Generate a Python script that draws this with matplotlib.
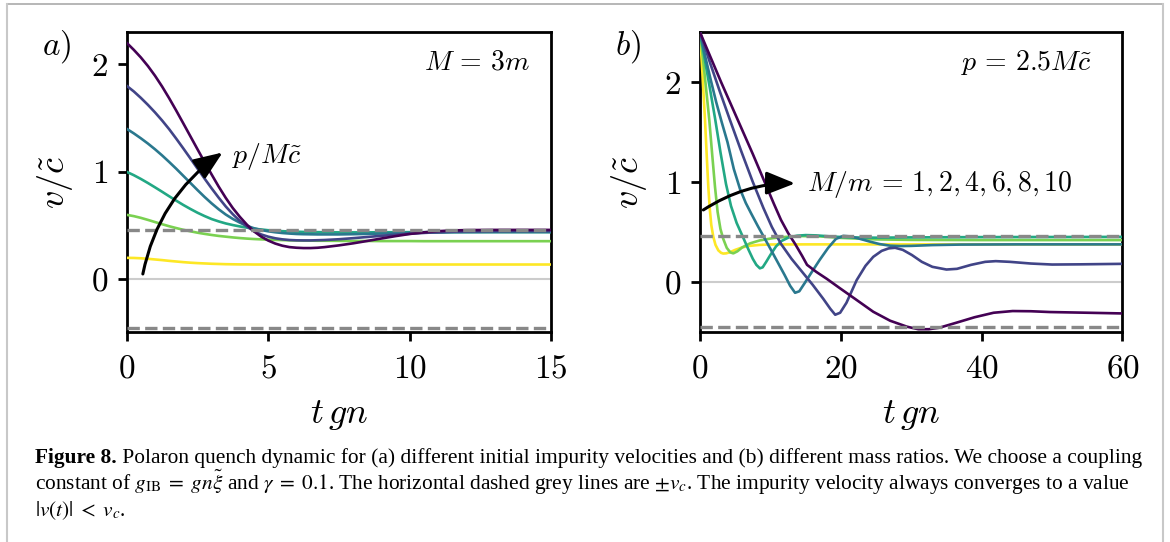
import numpy as np
import matplotlib
matplotlib.use('Agg')
import matplotlib.pyplot as plt
from matplotlib.lines import Line2D

plt.rcParams['mathtext.fontset'] = 'cm'
plt.rcParams['font.family'] = 'serif'
plt.rcParams['font.serif'] = ['cmr10', 'DejaVu Serif']
plt.rcParams['axes.unicode_minus'] = False

# ---- panel a: different initial momenta, M = 3m ----
t_a = [0, 0.25, 0.5, 0.75, 1, 1.25, 1.5, 1.75, 2, 2.25, 2.5, 2.75, 3, 3.25, 3.5, 3.75, 4, 4.25,
       4.5, 4.75, 5, 5.25, 5.5, 5.75, 6, 6.25, 6.5, 6.75, 7,
       7.5, 8, 8.5, 9, 9.5, 10, 10.5, 11, 11.5, 12,
       13, 14, 15]
p_labels = [2.2, 1.8, 1.4, 1.0, 0.6, 0.2]
v_a = {
    2.2: [2.200, 2.135, 2.064, 1.984, 1.894, 1.794, 1.685, 1.570, 1.451, 1.331, 1.211, 1.092, 0.976,
          0.863, 0.758, 0.663, 0.581, 0.508, 0.446, 0.398, 0.361, 0.333, 0.313, 0.300, 0.294, 0.291,
          0.291, 0.294, 0.300,
          0.316, 0.335, 0.357, 0.380, 0.402, 0.422, 0.437, 0.448, 0.455, 0.458,
          0.46, 0.46, 0.46],
    1.8: [1.800, 1.748, 1.688, 1.623, 1.553, 1.478, 1.397, 1.309, 1.218, 1.125, 1.031, 0.938, 0.847,
          0.760, 0.678, 0.606, 0.543, 0.491, 0.448, 0.418, 0.397, 0.382, 0.372, 0.366, 0.363, 0.362,
          0.362, 0.364, 0.366,
          0.373, 0.383, 0.394, 0.405, 0.415, 0.424, 0.432, 0.438, 0.443, 0.446,
          0.449, 0.45, 0.45],
    1.4: [1.400, 1.358, 1.312, 1.263, 1.210, 1.153, 1.092, 1.029, 0.963, 0.897, 0.831, 0.767, 0.707,
          0.652, 0.603, 0.562, 0.527, 0.498, 0.475, 0.459, 0.447, 0.438, 0.431, 0.426, 0.422, 0.420,
          0.419, 0.418, 0.418,
          0.418, 0.42, 0.423, 0.426, 0.429, 0.432, 0.434, 0.436, 0.438, 0.439,
          0.44, 0.44, 0.44],
    1.0: [1.000, 0.969, 0.934, 0.896, 0.856, 0.815, 0.773, 0.732, 0.692, 0.655, 0.620, 0.589, 0.561,
          0.539, 0.520, 0.505, 0.492, 0.481, 0.471, 0.464, 0.457, 0.452, 0.448, 0.445, 0.443, 0.441,
          0.440, 0.439, 0.438,
          0.437, 0.437, 0.437, 0.438, 0.438, 0.439, 0.439, 0.44, 0.44, 0.44,
          0.44, 0.44, 0.44],
    0.6: [0.600, 0.588, 0.572, 0.553, 0.533, 0.513, 0.494, 0.477, 0.461, 0.447, 0.434, 0.423, 0.413,
          0.404, 0.397, 0.390, 0.384, 0.379, 0.375, 0.372, 0.369, 0.367, 0.365, 0.363, 0.362, 0.361,
          0.360, 0.359, 0.359,
          0.358, 0.357, 0.357, 0.356, 0.356, 0.356, 0.355, 0.355, 0.355, 0.355,
          0.355, 0.355, 0.355],
    0.2: [0.200, 0.199, 0.196, 0.191, 0.185, 0.179, 0.172, 0.166, 0.160, 0.155, 0.151, 0.148, 0.145,
          0.143, 0.141, 0.140, 0.139, 0.139, 0.138, 0.138, 0.138, 0.138, 0.138, 0.138, 0.138, 0.138,
          0.138, 0.138, 0.138,
          0.138, 0.138, 0.138, 0.138, 0.138, 0.138, 0.138, 0.138, 0.138, 0.138,
          0.138, 0.138, 0.138],
}

# ---- panel b: different mass ratios, p = 2.5 M c ----
mass_ratios = [10, 8, 6, 4, 2, 1]
t_b = {
    1: [0, 0.35, 0.71, 0.95, 1.18, 1.4, 1.6, 1.89, 2.2, 2.6, 3.0, 3.3, 3.7, 4.2, 5.0, 6.0, 7.0,
        8.5, 10, 15, 60],
    2: [0, 0.4, 0.8, 1.32, 1.7, 2.13, 2.5, 2.9, 3.3, 3.8, 4.3, 4.73, 5.3, 6.0, 7.1, 8.5, 10.4,
        12.5, 14.5, 17, 20, 25, 30, 40, 60],
    4: [0, 0.7, 1.4, 2.13, 2.9, 3.69, 4.4, 5.2, 6.15, 6.9, 7.5, 8.0, 8.5, 8.9, 9.4, 10.0, 10.8,
        11.6, 12.6, 13.8, 15.0, 16.5, 18.5, 21, 25, 30, 40, 60],
    6: [0, 0.7, 1.5, 2.3, 3.08, 3.9, 4.8, 5.68, 6.5, 7.3, 8.2, 9.1, 10, 11, 12, 12.8, 13.5, 14.1,
        14.8, 15.8, 17.0, 18.2, 19.3, 20.35, 21.3, 22.5, 24, 25.5, 27, 28.5, 30, 33, 37, 45, 60],
    8: [0, 1.4, 2.8, 4.26, 5.9, 7.5, 9.0, 10.2, 11.5, 13, 14.5, 16, 17.5, 18.5, 19.2, 19.9, 20.8,
        22.25, 23.5, 24.6, 25.8, 26.8, 27.7, 28.8, 30.1, 31.5, 33, 35, 36.5, 38.5, 40.5, 42, 44,
        47, 50, 54, 60],
    10: [0, 1.5, 3, 4.5, 6, 7.5, 9, 10.5, 11.5, 12.5, 13.5, 14.5, 15.2, 16.5, 18, 19.9, 22, 24.6,
         27, 29.4, 31, 32.5, 34, 36.4, 39, 41.7, 44.4, 47, 49.7, 55, 60],
}
v_b = {
    1: [2.5, 2.08, 1.62, 1.27, 0.95, 0.72, 0.57, 0.45, 0.37, 0.315, 0.29, 0.283, 0.285, 0.295,
        0.32, 0.345, 0.36, 0.37, 0.374, 0.375, 0.375],
    2: [2.5, 2.25, 1.98, 1.62, 1.3, 0.95, 0.7, 0.53, 0.43, 0.34, 0.295, 0.285, 0.305, 0.345, 0.385,
        0.415, 0.438, 0.452, 0.458, 0.455, 0.44, 0.425, 0.42, 0.418, 0.418],
    4: [2.5, 2.22, 1.94, 1.64, 1.3, 0.98, 0.76, 0.59, 0.44, 0.32, 0.23, 0.17, 0.135, 0.145, 0.2,
        0.27, 0.355, 0.41, 0.445, 0.462, 0.468, 0.465, 0.455, 0.445, 0.442, 0.445, 0.448, 0.45],
    6: [2.5, 2.27, 2.03, 1.8, 1.6, 1.4, 1.13, 0.93, 0.79, 0.68, 0.56, 0.445, 0.33, 0.2, 0.07,
        -0.04, -0.11, -0.095, -0.02, 0.09, 0.22, 0.34, 0.43, 0.46, 0.455, 0.435, 0.405, 0.378,
        0.362, 0.358, 0.36, 0.368, 0.373, 0.375, 0.375],
    8: [2.5, 2.2, 1.91, 1.62, 1.3, 1.0, 0.74, 0.55, 0.38, 0.23, 0.1, -0.03, -0.17, -0.27, -0.33,
        -0.31, -0.21, 0.017, 0.16, 0.25, 0.31, 0.335, 0.341, 0.32, 0.268, 0.2, 0.15, 0.123, 0.13,
        0.17, 0.2, 0.207, 0.2, 0.183, 0.173, 0.175, 0.18],
    10: [2.5, 2.25, 2.0, 1.76, 1.52, 1.28, 1.03, 0.78, 0.62, 0.49, 0.38, 0.26, 0.17, 0.1, 0.03,
         -0.066, -0.17, -0.30, -0.39, -0.45, -0.475, -0.475, -0.46, -0.41, -0.355, -0.31, -0.293,
         -0.295, -0.303, -0.31, -0.317],
}

v_c = 0.455
xticks_a = [0, 5, 10, 15]
xticks_b = [0, 20, 40, 60]
yticks = [0, 1, 2]

colors = plt.cm.viridis(np.linspace(0, 1, 6))

fig = plt.figure(figsize=(11.7, 5.42), dpi=100)
ax_a = fig.add_axes([0.1083, 0.388, 0.3627, 0.5524])
ax_b = fig.add_axes([0.5983, 0.388, 0.3611, 0.5524])

# curves, yellow first so purple ends on top
for i in range(5, -1, -1):
    ax_a.plot(t_a, v_a[p_labels[i]], color=colors[i], lw=1.9, zorder=3)
    ax_b.plot(t_b[mass_ratios[i]], v_b[mass_ratios[i]], color=colors[i], lw=1.9, zorder=3)

for ax in (ax_a, ax_b):
    ax.axhline(0, color='#cccccc', lw=1.5, zorder=1)
    ax.axhline(v_c, color='#888888', lw=2.4, ls='--', zorder=4)
    ax.axhline(-v_c, color='#888888', lw=2.4, ls='--', zorder=4)
    for s in ax.spines.values():
        s.set_linewidth(2.0)
    ax.tick_params(direction='out', length=6.5, width=2.0, labelsize=24)
    ax.tick_params(axis='x', pad=10)
    ax.tick_params(axis='y', pad=7)
    ax.set_yticks(yticks)
    ax.set_yticklabels([r'$%d$' % y for y in yticks])
    ax.set_xlabel(r'$t\,gn$', fontsize=26, labelpad=10)
    ax.set_ylabel(r'$v/\tilde{c}$', fontsize=26, labelpad=11)

ax_a.set_xlim(0, 15)
ax_a.set_ylim(-0.487, 2.298)
ax_a.set_xticks(xticks_a)
ax_a.set_xticklabels([r'$%d$' % x for x in xticks_a])
ax_b.set_xlim(0, 60)
ax_b.set_ylim(-0.5, 2.5)
ax_b.set_xticks(xticks_b)
ax_b.set_xticklabels([r'$%d$' % x for x in xticks_b])

# annotations
arrow_kw = dict(arrowstyle='-|>,head_length=0.8,head_width=0.32', lw=2.2, color='k',
                mutation_scale=22, shrinkA=0, shrinkB=0)
ax_a.annotate('', xy=(3.39, 1.18), xytext=(0.57, 0.05),
              arrowprops=dict(connectionstyle='arc3,rad=-0.2', **arrow_kw), zorder=5)
ax_a.text(3.71, 1.14, r'$p/M\tilde{c}$', fontsize=20, ha='left', va='center')
ax_a.text(0.95, 0.90, r'$M\,=\,3m$', fontsize=20, ha='right', va='center', transform=ax_a.transAxes)
ax_a.text(-0.2, 0.951, r'$a)$', fontsize=24, ha='left', va='center', transform=ax_a.transAxes)

ax_b.annotate('', xy=(13.5, 0.986), xytext=(0.47, 0.72),
              arrowprops=dict(connectionstyle='arc3,rad=-0.15', **arrow_kw), zorder=5)
ax_b.text(15.2, 0.97, r'$M/m\,=\,1, 2, 4, 6, 8, 10$', fontsize=20, ha='left', va='center')
ax_b.text(0.928, 0.90, r'$p\,=\,2.5M\tilde{c}$', fontsize=20, ha='right', va='center',
          transform=ax_b.transAxes)
ax_b.text(-0.201, 0.951, r'$b)$', fontsize=24, ha='left', va='center', transform=ax_b.transAxes)

# page frame around the figure
fig.add_artist(Line2D([7/1170, 1163/1170], [1-4/542, 1-4/542], color='#aaaaaa', lw=1.2,
                      transform=fig.transFigure))
fig.add_artist(Line2D([7/1170, 7/1170], [0, 1-4/542], color='#c8c8c8', lw=1.5,
                      transform=fig.transFigure))
fig.add_artist(Line2D([1163/1170, 1163/1170], [0, 1-4/542], color='#c8c8c8', lw=1.5,
                      transform=fig.transFigure))

# caption
cap_font = dict(family='Liberation Serif', fontsize=15.4, math_fontfamily='stix')
x0 = 35/1170
t1 = fig.text(x0, 1-463/542, 'Figure 8.', weight='bold', va='baseline', **cap_font)
plt.annotate(' Polaron quench dynamic for (a) different initial impurity velocities and (b) '
             'different mass ratios. We choose a coupling',
             xy=(1, 1-463/542), xycoords=(t1, 'figure fraction'), va='baseline',
             annotation_clip=False, **cap_font)
fig.text(x0, 1-490/542, r'constant of $g_{\mathrm{IB}}\;=\;gn\tilde{\xi}$ and $\gamma\;=\;0.1$. '
         r'The horizontal dashed grey lines are $\pm v_c$. The impurity velocity always converges to a value',
         va='baseline', **cap_font)
fig.text(x0, 1-516/542, r'$|v(t)|\;<\;v_c$.', va='baseline', **cap_font)

fig.savefig('out.png', dpi=100)
